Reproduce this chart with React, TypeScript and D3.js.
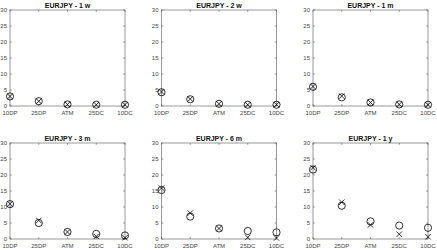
import React from 'react';
import * as d3 from 'd3';

const categories = ['10DP', '25DP', 'ATM', '25DC', '10DC'];
const yTicks = [0, 5, 10, 15, 20, 25, 30];
const titles = ['EURJPY - 1 w', 'EURJPY - 2 w', 'EURJPY - 1 m', 'EURJPY - 3 m', 'EURJPY - 6 m', 'EURJPY - 1 y'];

const circles1w = [3.0, 1.5, 0.5, 0.4, 0.4];
const crosses1w = [3.0, 1.5, 0.5, 0.4, 0.4];
const circles2w = [4.3, 2.1, 0.7, 0.4, 0.4];
const crosses2w = [4.4, 2.2, 0.7, 0.4, 0.4];
const circles1m = [6.0, 2.7, 1.1, 0.5, 0.4];
const crosses1m = [6.1, 3.1, 1.1, 0.5, 0.4];
const circles3m = [10.9, 5.0, 2.2, 1.6, 1.1];
const crosses3m = [11.0, 5.8, 2.2, 0.8, 0.4];
const circles6m = [15.3, 7.0, 3.3, 2.5, 2.1];
const crosses6m = [15.9, 8.1, 3.3, 0.5, 0.3];
const circles1y = [21.7, 10.4, 5.5, 4.2, 3.5];
const crosses1y = [22.3, 11.5, 4.4, 1.5, 0.7];

const circleSeries = [circles1w, circles2w, circles1m, circles3m, circles6m, circles1y];
const crossSeries = [crosses1w, crosses2w, crosses1m, crosses3m, crosses6m, crosses1y];

const W = 437;
const H = 250;
const panelLefts = [10, 161.5, 313];
const panelTops = [10, 143];
const PW = 115;
const PH = 96;
const font = 'Liberation Sans, Arial, sans-serif';

function Panel({ idx }: { idx: number }) {
  const left = panelLefts[idx % 3];
  const top = panelTops[Math.floor(idx / 3)];
  const x = d3.scalePoint<string>().domain(categories).range([left, left + PW]);
  const y = d3.scaleLinear().domain([0, 30]).range([top + PH, top]);
  const axisColor = '#555';
  const tl = 1.8;
  const circ = circleSeries[idx];
  const cross = crossSeries[idx];
  const cs = 2.7;
  return (
    <g>
      <rect x={left} y={top} width={PW} height={PH} fill="none" stroke={axisColor} strokeWidth={0.6} />
      {yTicks.map((t) => (
        <g key={'y' + t}>
          <line x1={left} x2={left + tl} y1={y(t)} y2={y(t)} stroke={axisColor} strokeWidth={0.6} />
          <line x1={left + PW} x2={left + PW - tl} y1={y(t)} y2={y(t)} stroke={axisColor} strokeWidth={0.6} />
          <text x={left - 3} y={y(t)} dy="0.35em" textAnchor="end" fontSize={6} fill="#444" fontFamily={font}>
            {t}
          </text>
        </g>
      ))}
      {categories.map((c) => (
        <g key={'x' + c}>
          <line x1={x(c)} x2={x(c)} y1={top + PH} y2={top + PH - tl} stroke={axisColor} strokeWidth={0.6} />
          <line x1={x(c)} x2={x(c)} y1={top} y2={top + tl} stroke={axisColor} strokeWidth={0.6} />
          <text x={x(c)} y={top + PH + 8.5} textAnchor="middle" fontSize={6} fill="#444" fontFamily={font}>
            {c}
          </text>
        </g>
      ))}
      <text x={left + PW / 2} y={top - 2.5} textAnchor="middle" fontSize={7} fontWeight="bold" fill="#111" fontFamily={font}>
        {titles[idx]}
      </text>
      {circ.map((v, i) => (
        <circle key={'c' + i} cx={x(categories[i])} cy={y(v)} r={3.6} fill="none" stroke="#000" strokeWidth={0.8} />
      ))}
      {cross.map((v, i) => {
        const cx = x(categories[i]) as number;
        const cy = y(v);
        return (
          <path
            key={'x' + i}
            d={`M${cx - cs},${cy - cs}L${cx + cs},${cy + cs}M${cx - cs},${cy + cs}L${cx + cs},${cy - cs}`}
            stroke="#000"
            strokeWidth={0.8}
            fill="none"
          />
        );
      })}
    </g>
  );
}

export default function App() {
  return (
    <svg width={W} height={H} style={{ position: 'absolute', left: 0, top: 0, background: '#fff' }}>
      <rect x={0} y={0} width={W} height={H} fill="#fff" />
      {[0, 1, 2, 3, 4, 5].map((i) => (
        <Panel key={i} idx={i} />
      ))}
    </svg>
  );
}
